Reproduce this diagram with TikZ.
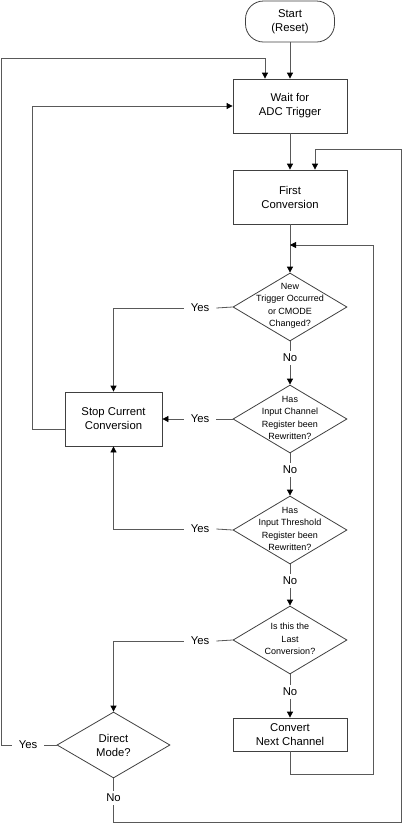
\documentclass[tikz,border=0pt]{standalone}
\usepackage{fontspec}
\setmainfont{Liberation Sans}
\usetikzlibrary{shapes.geometric,arrows.meta}
\begin{document}
\begin{tikzpicture}[x=1pt,y=-1pt,
 big/.style={font=\fontsize{11.3}{14}\selectfont},
 box/.style={big, draw=black!75, line width=0.8pt, minimum width=114pt, minimum height=54pt, inner sep=0pt, align=center},
 dia/.style={draw=black!75, line width=0.8pt, shape=diamond, minimum width=114pt, minimum height=68pt, inner sep=0pt},
 smalltxt/.style={align=center, font=\fontsize{9}{12.5}\selectfont, inner sep=0pt},
 lbl/.style={big, inner xsep=7pt, inner ysep=3pt},
 conn/.style={draw=black!65, line width=0.8pt},
 arr/.style={conn, -{Triangle[length=6pt,width=6pt,color=black]}}
]
\useasboundingbox (0,0) rectangle (402,823);

\node[box, rounded corners=18pt, minimum width=89pt, minimum height=41pt] (start) at (290,21.5) {Start\\(Reset)};
\node[box] (wait) at (290,106) {Wait for\\ADC Trigger};
\node[box] (first) at (290,197) {First\\Conversion};
\node[dia] (d1) at (290,307) {};
\node[smalltxt] (d1t) at (290,306) {New\\Trigger Occurred\\or CMODE\\Changed?};
\node[dia] (d2) at (290,419) {};
\node[smalltxt] (d2t) at (290,418) {Has\\Input Channel\\Register been\\Rewritten?};
\node[dia] (d3) at (290,530) {};
\node[smalltxt] (d3t) at (290,529) {Has\\Input Threshold\\Register been\\Rewritten?};
\node[dia] (d4) at (290,640) {};
\node[smalltxt] (d4t) at (290,639) {Is this the\\Last\\Conversion?};
\node[box, minimum height=33pt] (conv) at (290,734.5) {Convert\\Next Channel};
\node[box, minimum width=97pt, minimum height=54pt] (stop) at (113.5,419) {Stop Current\\Conversion};
\node[dia, minimum width=113pt, minimum height=66pt] (dm) at (113.5,745) {};
\node[big, align=center, inner sep=0pt] (dmt) at (113.5,745) {Direct\\Mode?};

\node[lbl] (y1) at (200,308) {Yes};
\node[lbl] (y2) at (200,419) {Yes};
\node[lbl] (y3) at (200,529) {Yes};
\node[lbl] (y4) at (200,641) {Yes};
\node[lbl] (y5) at (28,745) {Yes};
\node[lbl] (n1) at (290,358) {No};
\node[lbl] (n2) at (290,470) {No};
\node[lbl] (n3) at (290,581) {No};
\node[lbl] (n4) at (290,692) {No};
\node[lbl] (n5) at (113.5,798) {No};

\coordinate (j1) at (290,245);
\coordinate (loopR) at (373,774);
\coordinate (tl) at (1.5,58);
\coordinate (br) at (401,822);
\coordinate (tr) at (401,149);

\draw[arr] (start) -- (wait);
\draw[arr] (wait) -- (first);
\draw[arr] (first) -- (d1);
\draw[arr] (conv.south) |- (loopR) |- (j1);

\draw[conn] (d1.west) -- (y1.east);
\draw[arr] (y1.west) -| (stop.north);
\draw[conn] (d1.south) -- (n1.north);
\draw[arr] (n1.south) -- (d2.north);

\draw[conn] (d2.west) -- (y2.east);
\draw[arr] (y2.west) -- (stop.east);
\draw[conn] (d2.south) -- (n2.north);
\draw[arr] (n2.south) -- (d3.north);

\draw[conn] (d3.west) -- (y3.east);
\draw[arr] (y3.west) -| (stop.south);
\draw[conn] (d3.south) -- (n3.north);
\draw[arr] (n3.south) -- (d4.north);

\draw[conn] (d4.west) -- (y4.east);
\draw[arr] (y4.west) -| (dm.north);
\draw[conn] (d4.south) -- (n4.north);
\draw[arr] (n4.south) -- (conv.north);

\draw[arr] ([yshift=-10pt]stop.west) -- ++(-32,0) |- (wait.west);

\draw[conn] (dm.west) -- (y5.east);
\draw[arr] (y5.west) -| (tl) -| ([xshift=-25pt]wait.north);

\draw[conn] (dm.south) -- (n5.north);
\draw[arr] (n5.south) |- (br) -- (tr) -| ([xshift=25pt]first.north);
\end{tikzpicture}
\end{document}
